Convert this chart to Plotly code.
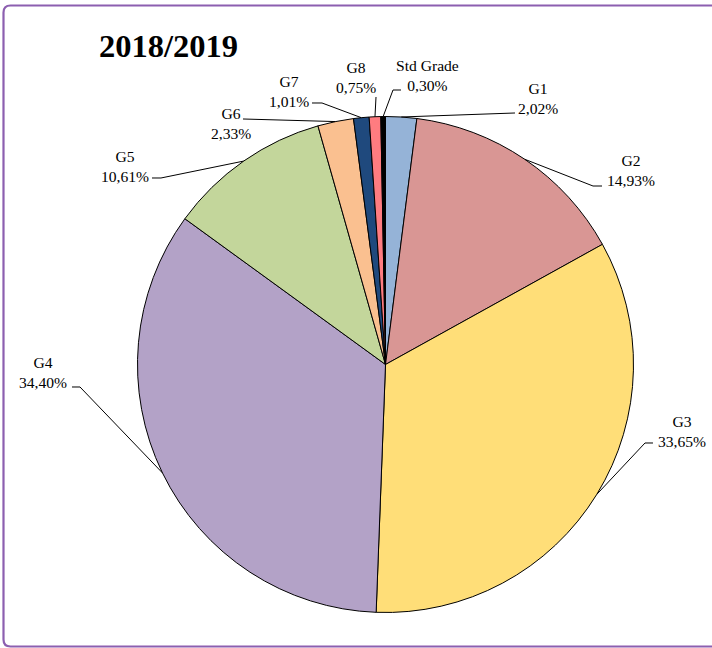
import math
import plotly.graph_objects as go

# ---- data ----
categories = ["G1", "G2", "G3", "G4", "G5", "G6", "G7", "G8", "Std Grade"]
values = [2.02, 14.93, 33.65, 34.40, 10.61, 2.33, 1.01, 0.75, 0.30]
value_labels = ["2,02%", "14,93%", "33,65%", "34,40%", "10,61%", "2,33%", "1,01%", "0,75%", "0,30%"]
title_text = "2018/2019"

# ---- styles / layout ----
colors = ["#95B3D7", "#D99694", "#FFDE78", "#B3A2C7", "#C3D69B",
          "#FAC090", "#1F497D", "#FF7C80", "#000000"]
W, H = 712, 648
CX, CY, R = 385.5, 364.5, 248.0   # pie centre / radius in px

# label block centres (px) and leader anchor points near each label (px)
label_pos = {
    "G1": (538, 98), "G2": (631, 171), "G3": (682, 431), "G4": (43, 372.5),
    "G5": (125, 166), "G6": (230.5, 123.5), "G7": (288.5, 92),
    "G8": (356, 78), "Std Grade": (427, 75.5),
}
leader_anchor = {
    "G1": [(515, 113)],
    "G2": [(602, 186), (593, 186)],
    "G3": [(653, 443), (645, 443)],
    "G4": [(72, 387), (80, 387)],
    "G5": [(152, 178), (161, 178)],
    "G6": [(243, 119)],
    "G7": [(312, 103), (322, 103)],
    "G8": [(376, 97)],
    "Std Grade": [(401, 90), (393, 90)],
}


def px(x):
    return x / W


def py(y):
    return 1 - y / H


fig = go.Figure(go.Pie(
    labels=categories, values=values, sort=False, direction="clockwise",
    rotation=0, textinfo="none", hoverinfo="label+percent",
    marker=dict(colors=colors, line=dict(color="black", width=1)),
    domain=dict(x=[px(CX - R), px(CX + R)], y=[py(CY + R), py(CY - R)]),
    showlegend=False,
))

shapes = []
annotations = []
total = sum(values)
cum = 0.0
for cat, v, lab in zip(categories, values, value_labels):
    mid = (cum + v / 2) / total * 2 * math.pi
    cum += v
    ex, ey = CX + R * math.sin(mid), CY - R * math.cos(mid)
    pts = leader_anchor[cat] + [(ex, ey)]
    path = "M " + " L ".join(f"{px(a):.5f},{py(b):.5f}" for a, b in pts)
    shapes.append(dict(type="path", xref="paper", yref="paper", path=path,
                       line=dict(color="black", width=1)))
    lx, ly = label_pos[cat]
    annotations.append(dict(
        x=px(lx), y=py(ly), xref="paper", yref="paper", showarrow=False,
        text=f"{cat}<br>{lab}", xanchor="center", yanchor="middle",
        font=dict(family="Liberation Serif", size=15.6, color="black"),
    ))

annotations.append(dict(
    x=px(97), y=py(46), xref="paper", yref="paper", showarrow=False,
    text=f"<b>{title_text}</b>", xanchor="left", yanchor="middle",
    font=dict(family="Liberation Serif", size=32.5, color="black"),
))

# rounded border
x0, y0, x1, y1, rr = 3.5, 5.5, 722, 646.5, 7
border = (f"M {px(x0)},{py(y0 + rr)} L {px(x0)},{py(y1 - rr)} "
          f"Q {px(x0)},{py(y1)} {px(x0 + rr)},{py(y1)} L {px(x1)},{py(y1)} "
          f"L {px(x1)},{py(y0)} L {px(x0 + rr)},{py(y0)} "
          f"Q {px(x0)},{py(y0)} {px(x0)},{py(y0 + rr)} Z")
shapes.append(dict(type="path", xref="paper", yref="paper", path=border,
                   line=dict(color="#8C5FB0", width=2.2), layer="below"))

fig.update_layout(
    width=W, height=H, margin=dict(l=0, r=0, t=0, b=0),
    paper_bgcolor="white", plot_bgcolor="white",
    shapes=shapes, annotations=annotations,
)
fig.write_html(
    "out.html",
    config={"displayModeBar": False},
    post_script="document.body.style.margin='0';document.body.style.overflow='hidden';",
)
